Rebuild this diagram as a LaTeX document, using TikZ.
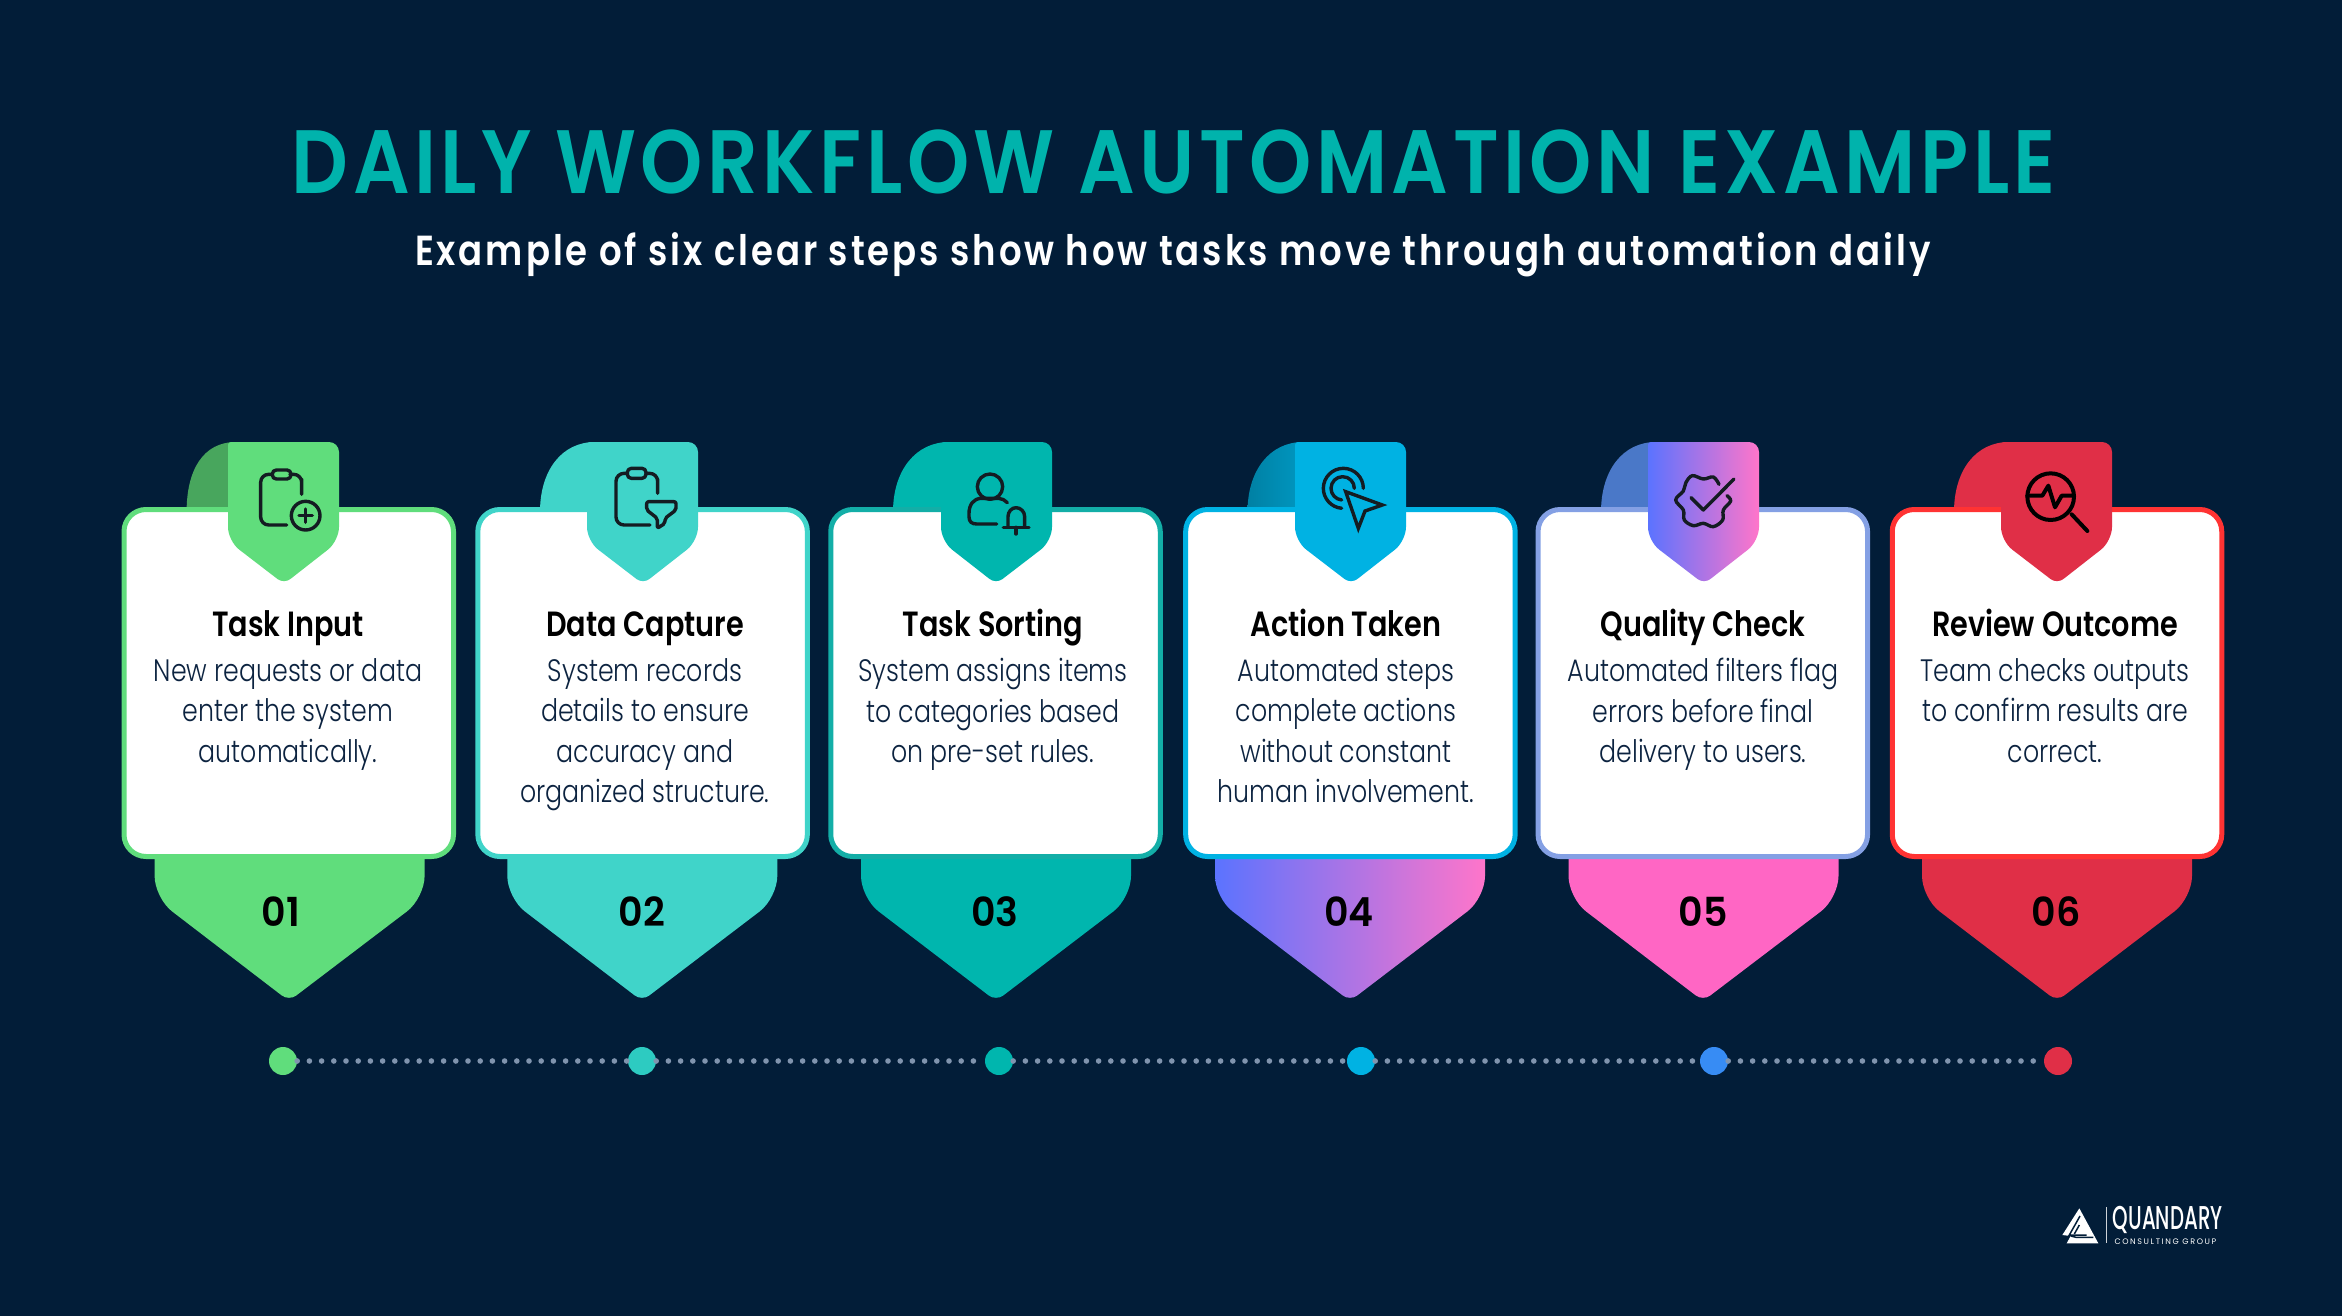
\documentclass[tikz,border=0pt]{standalone}
\usepackage{fontspec}
\usetikzlibrary{positioning}
\newfontfamily\titlefont[FakeStretch=.88,LetterSpace=5]{Poppins SemiBold}
\newfontfamily\subfont[FakeStretch=.845,LetterSpace=7]{Poppins SemiBold}
\newfontfamily\headfont[FakeStretch=.82]{Poppins SemiBold}
\newfontfamily\numfont[FakeStretch=.95]{Poppins SemiBold}
\newfontfamily\bodyfont[FakeStretch=.815]{Poppins Light}
\newfontfamily\logofont[FakeStretch=.6]{Poppins Medium}
\newfontfamily\logosmall[LetterSpace=20]{Poppins}
\definecolor{bgnavy}{HTML}{021D38}
\definecolor{titleteal}{HTML}{00B3AC}
\definecolor{inkblue}{HTML}{0C2340}
\definecolor{iconink}{HTML}{141C22}
\definecolor{dotgrey}{HTML}{8094AE}
\definecolor{stepgreen}{HTML}{60DD7C}
\definecolor{stepaqua}{HTML}{40D4C9}
\definecolor{stepteal}{HTML}{00B6AE}
\definecolor{stepsky}{HTML}{00B2E3}
\definecolor{stepblue}{HTML}{5B73FF}
\definecolor{steppink}{HTML}{FF66C4}
\definecolor{stepred}{HTML}{E02F47}
\definecolor{edgeblue}{HTML}{84A0E4}
\definecolor{flapblue}{HTML}{4A78C8}
\tikzset{
	cardbox/.style={draw=#1,fill=white,line width=5pt,rounded corners=22pt,minimum width=329.5pt,minimum height=347pt},
	stephead/.style={font=\headfont\fontsize{35}{40}\selectfont,text=black,inner sep=0pt,anchor=base},
	stepbody/.style={font=\bodyfont\fontsize{31}{40.5}\selectfont,text=inkblue,align=center,inner sep=0pt,execute at begin node=\rule{0pt}{30pt}},
	stepnum/.style={font=\numfont\fontsize{40}{40}\selectfont,text=black,inner sep=0pt},
	trackdot/.style={circle,fill=#1,minimum size=28pt,inner sep=0pt},
	trackline/.style={draw=dotgrey,line width=5.6pt,line cap=round,dash pattern=on 0pt off 12.2pt},
	iconline/.style={draw=iconink,line width=3.4pt,line cap=round,line join=round},
	iconzoom/.style={shift={#1},x=.3333pt,y=-.3333pt},
	gradfill/.style={left color=stepblue,right color=#1},
}
% back flap, front flap and bottom tag of a card
\newcommand{\backflap}[3]{\path[#1] (#2,512) .. controls (#2,470) and (#3-25,442) .. (#3+8,442) -- (#3+8,512) -- cycle;}
\newcommand{\frontflap}[3]{\path[#1] (#2,452) [rounded corners=3pt] -- (#2,442) [rounded corners=10pt] -- (#2+111,442) [rounded corners=14pt] -- (#2+111,541) [rounded corners=8pt] -- (#3,584) [rounded corners=14pt] -- (#2,541) [sharp corners] -- cycle;}
\newcommand{\bottomtag}[3]{\path[#1] (#2,850) -- (#2+270,850) [rounded corners=22pt] -- (#2+270,898) [rounded corners=9pt] -- (#3,1001) [rounded corners=22pt] -- (#2,898) [sharp corners] -- cycle;}

\begin{document}
\begin{tikzpicture}[x=1pt,y=-1pt]
	\fill[bgnavy] (0,0) rectangle (2342,1316);
	\node[font=\titlefont\fontsize{90}{90}\selectfont,text=titleteal] (title) at (1174,162) {DAILY WORKFLOW AUTOMATION EXAMPLE};
	\node[font=\subfont\fontsize{42}{45}\selectfont,text=white] (subtitle) at (1173,255) {Example of six clear steps show how tasks move through automation daily};

	% tags and back flaps sit behind the cards
	\bottomtag{fill=stepgreen}{154.6}{289}
	\bottomtag{fill=stepaqua}{507.3}{642}
	\bottomtag{fill=stepteal}{861}{996}
	\bottomtag{gradfill=steppink!90!white}{1215}{1350}
	\bottomtag{fill=steppink}{1568.5}{1703}
	\bottomtag{fill=stepred}{1922}{2057}
	\backflap{fill=stepgreen!75!black}{186.6}{228}
	\backflap{fill=stepaqua}{540}{587}
	\backflap{fill=stepteal}{893}{941}
	\backflap{left color=stepsky!72!black,right color=stepsky!85!black}{1247.5}{1295}
	\backflap{fill=flapblue}{1601}{1648}
	\backflap{fill=stepred}{1954}{2001}

	\node[cardbox=stepgreen] (card1) at (288.75,683) {};
	\node[cardbox=stepaqua] (card2) at (642.6,683) {};
	\node[cardbox=stepteal!85!gray] (card3) at (995.5,683) {};
	\node[cardbox=stepsky] (card4) at (1350.4,683) {};
	\node[cardbox=edgeblue] (card5) at (1702.8,683) {};
	\node[cardbox=red!80!white] (card6) at (2057,683) {};

	\frontflap{fill=stepgreen}{228}{284}
	\frontflap{fill=stepaqua}{587}{643}
	\frontflap{fill=stepteal}{941}{996}
	\frontflap{fill=stepsky}{1295}{1351}
	\frontflap{gradfill=steppink!90!white}{1648}{1704}
	\frontflap{fill=stepred}{2001}{2057}

	\node[stephead] (head1) at (288,636) {Task Input};
	\node[stephead] (head2) at (645,636) {Data Capture};
	\node[stephead] (head3) at (993,636) {Task Sorting};
	\node[stephead] (head4) at (1346,636) {Action Taken};
	\node[stephead] (head5) at (1703,636) {Quality Check};
	\node[stephead] (head6) at (2055,636) {Review Outcome};

	\node[stepbody,below=22pt of head1.base,anchor=north] (body1) {New requests or data\\enter the system\\automatically.};
	\node[stepbody,below=22pt of head2.base,anchor=north] (body2) {System records\\details to ensure\\accuracy and\\organized structure.};
	\node[stepbody,below=22pt of head3.base,anchor=north] (body3) {System assigns items\\to categories based\\on pre-set rules.};
	\node[stepbody,below=22pt of head4.base,anchor=north] (body4) {Automated steps\\complete actions\\without constant\\human involvement.};
	\node[stepbody,below=22pt of head5.base,anchor=north] (body5) {Automated filters flag\\errors before final\\delivery to users.};
	\node[stepbody,below=22pt of head6.base,anchor=north] (body6) {Team checks outputs\\to confirm results are\\correct.};

	\node[stepnum] (num1) at (281,912) {01};
	\node[stepnum] (num2) at (642,912) {02};
	\node[stepnum] (num3) at (995,912) {03};
	\node[stepnum] (num4) at (1349,912) {04};
	\node[stepnum] (num5) at (1703,912) {05};
	\node[stepnum] (num6) at (2056,912) {06};

	\node[trackdot=stepgreen] (dot1) at (283,1061) {};
	\node[trackdot=stepaqua!70!stepteal] (dot2) at (642,1061) {};
	\node[trackdot=stepteal] (dot3) at (999,1061) {};
	\node[trackdot=stepsky] (dot4) at (1361,1061) {};
	\node[trackdot=stepblue!60!stepsky] (dot5) at (1714,1061) {};
	\node[trackdot=stepred] (dot6) at (2058,1061) {};
	\draw[trackline] (dot1) -- (dot2);
	\draw[trackline] (dot2) -- (dot3);
	\draw[trackline] (dot3) -- (dot4);
	\draw[trackline] (dot4) -- (dot5);
	\draw[trackline] (dot5) -- (dot6);

	% icons, in the pixels of a 3x crop
	\begin{scope}[iconzoom={(240,455)}]
		\draw[iconline] (185,118) -- (185,72) [rounded corners=8pt] -- (185,58) -- (150,58);
		\draw[iconline,rounded corners=8pt] (95,58) -- (62,58) -- (62,210) -- (140,210);
		\draw[iconline,rounded corners=4pt] (97,45) rectangle (153,72);
		\draw[iconline] (197,182) circle[radius=43];
		\draw[iconline] (177,182) -- (217,182) (197,162) -- (197,202);
	\end{scope}
	\begin{scope}[iconzoom={(600,455)}]
		\draw[iconline] (173,115) -- (173,72) [rounded corners=8pt] -- (173,55) -- (138,55);
		\draw[iconline,rounded corners=8pt] (82,55) -- (48,55) -- (48,210) -- (150,210);
		\draw[iconline,rounded corners=4pt] (82,40) rectangle (138,70);
		\draw[iconline,rounded corners=2pt] (140,140) -- (228,140) -- (228,165) -- (195,190) -- (195,205) -- (172,220) -- (172,190) -- (140,165) -- cycle;
	\end{scope}
	\begin{scope}[iconzoom={(950,455)}]
		\draw[iconline] (120,95) circle[radius=38];
		\draw[iconline] (172,143) .. controls (165,135) and (155,130) .. (145,130) -- (95,130) .. controls (70,130) and (57,150) .. (57,175) -- (57,185) .. controls (57,200) and (65,207) .. (80,207) -- (140,207);
		\draw[iconline] (174,215) -- (174,185) .. controls (174,170) and (185,158) .. (198,158) .. controls (212,158) and (224,170) .. (224,185) -- (224,215);
		\draw[iconline] (160,217) -- (237,217) (198,217) -- (198,237);
	\end{scope}
	\begin{scope}[iconzoom={(1310,455)}]
		\draw[iconline,line join=miter] (107,110) -- (217,150) -- (165,168) -- (145,220) -- cycle;
		\draw[iconline] (160,100) arc[start angle=0,end angle=-265,radius=60];
		\draw[iconline] (133,100) arc[start angle=0,end angle=-265,radius=35];
	\end{scope}
	\begin{scope}[iconzoom={(1660,455)}]
		\draw[iconline] plot[smooth,tension=.6] coordinates {(177,88) (160,66) (130,72) (97,62) (78,82) (70,108) (47,135) (70,165) (73,195) (100,212) (130,205) (160,215) (188,195) (190,165) (212,138) (201,122)};
		\draw[iconline] (93,128) -- (130,165) -- (222,72);
	\end{scope}
	\begin{scope}[iconzoom={(2010,455)}]
		\draw[iconline,line width=4pt,draw=black] (122,125) circle[radius=70];
		\draw[iconline,line width=4pt,draw=black] (52,122) -- (97,122) -- (115,92) -- (135,157) -- (155,122) -- (192,122);
		\draw[iconline,line width=4pt,draw=black] (185,178) -- (232,228);
	\end{scope}

	% logo
	\begin{scope}[iconzoom={(2030,1180)}]
		\fill[white] (148,85) -- (205,190) -- (110,190) -- (122,168) -- (97,165) -- cycle;
		\draw[bgnavy,line width=1.5pt] (150,108) -- (118,165) -- (170,165);
		\draw[bgnavy,line width=1.5pt] (148,135) -- (133,162);
		\draw[bgnavy,line width=1.5pt] (122,168) -- (138,172) -- (190,172);
		\draw[white!80!bgnavy,line width=1pt] (228,82) -- (228,190);
		\node[font=\logofont\fontsize{33}{33}\selectfont,text=white,inner sep=0pt,anchor=west] (logoname) at (248,120) {QUANDARY};
		\node[font=\logosmall\fontsize{8}{9}\selectfont,text=white,inner sep=0pt,anchor=west] (logosub) at (253,184) {CONSULTING GROUP};
	\end{scope}
\end{tikzpicture}
\end{document}
